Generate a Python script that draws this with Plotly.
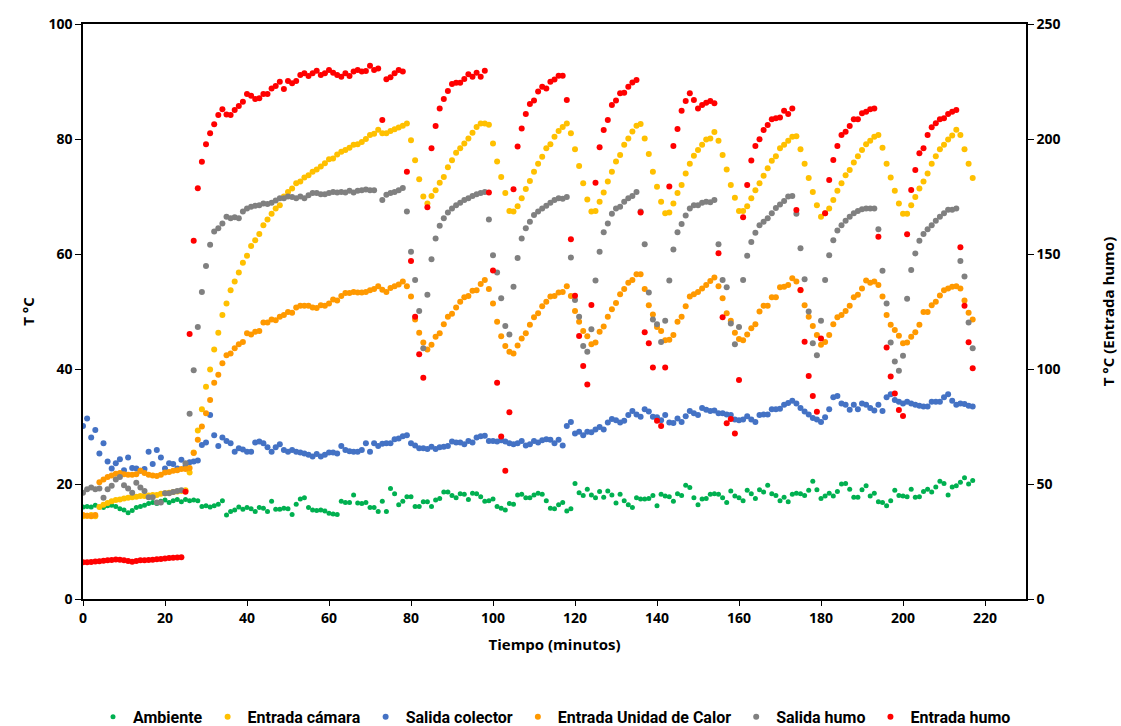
import plotly.graph_objects as go

minutes = list(range(218))

ambiente = [
    16.0, 16.1, 16.0, 16.3, 16.0, 15.9, 16.2, 16.3, 16.1, 15.7,
    15.5, 15.0, 15.4, 15.9, 16.1, 16.3, 16.6, 16.8, 16.6, 17.0,
    17.2, 16.8, 17.1, 17.3, 16.9, 17.3, 17.1, 17.2, 17.1, 16.1,
    16.2, 16.0, 16.2, 16.5, 17.1, 14.6, 15.2, 15.5, 16.0, 15.6,
    15.9, 15.7, 15.2, 15.9, 15.8, 15.2, 17.0, 15.6, 15.6, 15.8,
    15.7, 14.7, 16.5, 17.4, 17.6, 15.9, 15.5, 15.4, 15.5, 15.3,
    14.9, 14.8, 14.7, 17.0, 16.8, 16.8, 18.1, 16.7, 16.6, 16.8,
    15.9, 15.9, 15.2, 17.0, 15.2, 19.2, 18.3, 16.4, 17.0, 17.8,
    17.8, 16.1, 16.1, 16.9, 16.9, 16.1, 17.2, 17.5, 18.6, 18.6,
    18.0, 17.6, 18.3, 18.2, 17.3, 18.4, 18.3, 17.8, 17.0, 17.1,
    17.4, 16.1, 15.8, 15.5, 16.6, 16.5, 18.1, 18.2, 17.6, 17.6,
    18.1, 18.4, 18.2, 17.1, 15.8, 15.7, 16.4, 16.8, 15.3, 15.7,
    20.1, 18.5, 18.0, 19.1, 18.1, 17.6, 18.7, 17.7, 18.8, 18.1,
    16.7, 18.2, 17.1, 16.4, 15.9, 17.6, 17.4, 17.4, 17.5, 18.0,
    16.2, 18.2, 17.9, 17.8, 17.0, 18.3, 18.0, 19.8, 19.4, 17.6,
    16.4, 17.4, 17.5, 18.2, 18.3, 18.2, 17.6, 16.8, 18.8, 17.9,
    17.6, 17.1, 18.9, 18.3, 17.5, 19.0, 18.6, 19.8, 18.3, 18.0,
    17.1, 17.7, 16.9, 18.2, 18.4, 18.3, 18.0, 18.9, 20.5, 19.0,
    17.5, 17.9, 18.4, 17.9, 18.7, 20.0, 20.1, 19.1, 17.7, 17.7,
    19.0, 19.7, 17.9, 18.4, 16.9, 16.8, 16.2, 17.1, 18.9, 18.0,
    17.9, 17.8, 19.1, 17.7, 17.8, 18.7, 19.1, 18.6, 19.5, 20.5,
    20.1, 18.1, 19.5, 19.7, 20.3, 21.1, 20.0, 20.6,
]

entrada_camara = [
    14.4, 14.5, 14.6, 14.4, 16.0, 16.4, 16.7, 17.0, 17.2, 17.3,
    17.5, 17.6, 17.7, 17.8, 17.9, 17.9, 18.0, 18.1, 18.1, 18.3,
    18.4, 18.5, 18.6, 18.7, 18.8, 18.9, 22.0, 25.5, 29.3, 33.0,
    36.9, 39.9, 43.4, 46.3, 49.4, 51.4, 53.7, 55.2, 56.8, 58.5,
    59.7, 61.4, 62.4, 63.5, 65.0, 66.0, 67.0, 67.9, 68.5, 70.0,
    70.8, 71.4, 72.3, 72.6, 73.3, 73.7, 74.3, 74.7, 75.2, 75.8,
    76.5, 76.6, 77.3, 77.8, 78.1, 78.5, 79.0, 79.1, 79.5, 80.0,
    80.7, 80.9, 81.6, 81.0, 81.0, 81.4, 81.7, 82.0, 82.3, 82.7,
    79.8, 76.3, 73.0, 70.0, 68.8, 70.1, 71.1, 72.4, 73.4, 75.1,
    76.3, 77.6, 78.4, 79.2, 80.1, 81.1, 82.1, 82.7, 82.7, 82.5,
    79.2, 76.1, 73.4, 70.6, 67.5, 67.4, 68.3, 69.7, 71.3, 72.7,
    74.3, 75.7, 76.9, 78.4, 79.1, 80.4, 81.4, 82.1, 82.7, 81.0,
    78.2, 75.3, 72.3, 69.5, 67.4, 67.5, 69.1, 70.7, 72.6, 74.3,
    76.1, 77.2, 79.0, 80.1, 81.3, 82.3, 82.6, 80.1, 77.4, 74.3,
    71.7, 69.1, 67.1, 67.2, 68.8, 70.6, 72.0, 74.0, 75.7, 77.1,
    78.1, 79.0, 79.9, 80.1, 81.2, 79.7, 77.2, 74.7, 72.0, 69.8,
    67.5, 67.5, 68.3, 69.7, 71.1, 72.3, 73.6, 74.9, 76.2, 77.0,
    78.4, 79.0, 79.7, 80.4, 80.5, 78.2, 75.7, 73.2, 70.8, 68.5,
    66.5, 67.1, 67.9, 69.4, 71.0, 72.3, 73.7, 74.6, 75.9, 77.0,
    78.1, 79.1, 79.7, 80.4, 80.7, 78.5, 75.7, 73.3, 71.0, 68.8,
    67.0, 67.0, 68.5, 69.9, 71.4, 72.6, 74.0, 75.7, 77.0, 78.2,
    79.0, 79.9, 80.6, 81.6, 80.7, 78.2, 75.7, 73.2,
]

salida_colector = [
    30.1, 31.4, 28.1, 29.4, 25.3, 27.1, 23.9, 22.7, 23.6, 24.3,
    22.4, 24.6, 22.8, 22.7, 22.3, 22.6, 25.6, 23.5, 25.9, 24.6,
    22.7, 23.6, 23.5, 22.7, 24.2, 23.1, 23.8, 23.9, 24.1, 26.8,
    27.2, 32.0, 28.5, 26.6, 28.1, 27.5, 27.1, 25.6, 26.2, 26.0,
    25.6, 25.6, 27.2, 27.4, 27.1, 26.4, 25.6, 26.4, 26.9, 25.9,
    25.6, 25.9, 25.6, 25.5, 25.3, 25.1, 24.8, 25.2, 24.8, 25.1,
    25.5, 25.5, 25.3, 26.6, 25.9, 25.7, 25.6, 25.6, 25.9, 27.1,
    25.6, 27.1, 26.6, 27.0, 27.1, 27.1, 27.8, 27.9, 28.3, 28.5,
    27.1, 26.7, 26.2, 26.2, 26.1, 26.5, 26.1, 26.4, 26.5, 26.6,
    27.4, 27.2, 27.2, 26.9, 27.5, 27.2, 28.1, 28.3, 28.4, 27.5,
    27.5, 27.4, 27.6, 27.4, 27.1, 26.9, 27.1, 27.5, 26.7, 26.9,
    27.5, 27.2, 27.6, 27.8, 27.7, 27.1, 27.7, 26.7, 30.1, 30.8,
    28.8, 29.1, 28.5, 29.1, 29.0, 29.5, 29.9, 29.5, 30.7, 31.3,
    31.1, 30.7, 31.0, 32.0, 32.7, 32.1, 31.7, 33.0, 32.6, 31.7,
    31.6, 31.1, 32.0, 30.7, 30.6, 31.4, 30.8, 31.8, 32.7, 32.3,
    32.0, 33.2, 32.9, 32.7, 32.8, 32.3, 32.3, 32.1, 32.0, 31.2,
    31.1, 31.2, 31.8, 31.2, 30.8, 32.0, 32.1, 32.1, 33.0, 33.0,
    33.1, 33.8, 34.1, 34.5, 34.0, 33.2, 32.6, 32.1, 31.5, 31.2,
    30.8, 31.6, 33.0, 35.1, 35.3, 34.0, 33.8, 32.9, 33.8, 33.0,
    34.0, 33.8, 33.2, 32.8, 33.8, 32.7, 35.1, 35.6, 34.6, 34.3,
    34.0, 34.3, 34.0, 33.8, 33.6, 33.5, 33.5, 34.3, 34.3, 34.3,
    35.1, 35.6, 34.5, 33.8, 34.0, 33.9, 33.6, 33.5,
]

entrada_unidad_calor = [
    14.6, 14.5, 14.4, 14.6, 20.3, 20.8, 21.2, 21.5, 21.8, 21.9,
    21.7, 21.6, 21.6, 21.7, 22.3, 21.9, 21.6, 21.5, 21.4, 21.6,
    22.0, 22.1, 22.3, 22.4, 22.6, 22.6, 22.8, 25.4, 27.7, 30.0,
    32.3, 34.6, 37.6, 39.0, 41.0, 42.4, 42.7, 43.6, 44.3, 44.7,
    46.2, 46.0, 46.5, 46.6, 48.1, 48.1, 48.6, 48.5, 49.1, 49.4,
    49.9, 49.8, 50.7, 51.0, 51.0, 51.0, 50.7, 50.6, 51.1, 51.0,
    51.4, 52.1, 51.9, 52.7, 53.2, 53.2, 53.4, 53.3, 53.3, 53.4,
    53.7, 53.9, 54.4, 53.8, 53.4, 54.1, 54.4, 54.7, 55.2, 54.4,
    52.6, 48.6, 46.3, 44.6, 43.4, 44.2, 45.6, 46.2, 47.8, 49.1,
    49.6, 50.7, 51.7, 52.5, 52.7, 53.6, 53.7, 54.8, 55.5, 53.9,
    51.4, 48.2, 45.7, 44.0, 43.0, 42.7, 44.1, 45.3, 46.2, 47.7,
    49.0, 49.7, 50.9, 51.7, 52.6, 52.7, 53.3, 53.4, 54.4, 52.7,
    50.1, 48.2, 46.6, 45.7, 44.3, 44.6, 46.5, 47.4, 49.1, 50.4,
    51.5, 53.0, 53.9, 55.0, 55.5, 56.5, 56.5, 53.9, 51.1, 49.5,
    47.3, 46.6, 45.0, 45.1, 45.9, 48.2, 49.1, 50.9, 52.6, 53.0,
    53.4, 54.0, 54.6, 55.3, 55.9, 54.4, 52.3, 49.7, 48.4, 46.3,
    45.2, 45.0, 46.0, 47.1, 47.8, 50.0, 51.0, 51.0, 52.5, 52.5,
    54.2, 54.3, 54.6, 55.8, 55.2, 53.7, 51.1, 49.1, 47.5, 45.9,
    44.2, 44.7, 45.9, 47.8, 49.0, 49.4, 50.1, 51.0, 52.5, 52.9,
    54.0, 55.4, 55.0, 55.2, 54.6, 52.6, 49.4, 47.7, 46.8, 45.8,
    44.5, 44.6, 45.6, 46.4, 47.7, 49.9, 49.9, 51.1, 51.7, 52.8,
    53.7, 54.0, 54.3, 54.4, 54.0, 51.9, 49.8, 48.6,
]

salida_humo = [
    18.5, 19.1, 19.4, 19.1, 19.2, 17.6, 19.1, 19.7, 20.8, 21.2,
    19.8, 19.2, 18.5, 20.2, 19.4, 18.8, 17.7, 17.7, 16.8, 16.8,
    18.4, 18.4, 18.6, 18.8, 18.9, 23.6, 32.2, 39.8, 47.3, 53.4,
    57.9, 61.6, 63.9, 64.5, 65.3, 66.5, 66.2, 66.4, 66.2, 67.4,
    67.9, 68.2, 68.4, 68.5, 68.8, 68.7, 68.9, 69.3, 69.7, 69.7,
    70.0, 69.9, 69.7, 70.0, 69.7, 70.2, 70.6, 70.6, 70.4, 70.4,
    70.6, 70.8, 70.7, 70.8, 70.7, 71.0, 70.7, 71.0, 71.1, 71.2,
    71.1, 71.1, None, 69.4, 70.3, 70.6, 70.8, 71.1, 71.5, 67.4,
    60.4, 55.5, 50.1, 43.6, 52.9, 59.1, 62.7, 64.9, 66.2, 67.2,
    67.9, 68.5, 68.9, 69.4, 69.7, 70.1, 70.4, 70.6, 70.8, 66.0,
    59.8, 56.8, 52.3, 47.5, 46.0, 54.3, 59.3, 62.7, 64.5, 65.6,
    66.8, 67.4, 67.9, 68.4, 68.9, 69.4, 69.7, 69.6, 69.9, 59.4,
    52.0, 49.1, 44.0, 43.0, 46.9, 55.4, 60.4, 63.8, 65.3, 67.0,
    67.9, 68.2, 69.1, 69.7, 70.1, 70.8, 67.4, 61.7, 53.3, 48.6,
    47.8, 44.7, 48.4, 55.4, 60.8, 63.8, 65.2, 66.7, 67.9, 68.5,
    68.5, 68.9, 69.1, 69.0, 69.4, 61.7, 55.5, 54.2, 47.9, 44.3,
    47.3, 55.5, 59.7, 62.1, 63.7, 65.0, 65.6, 66.2, 67.1, 68.0,
    68.6, 69.2, 70.0, 70.1, 67.0, 61.0, 55.6, 50.0, 44.5, 42.4,
    48.4, 55.5, 59.8, 62.4, 64.1, 65.0, 65.8, 66.5, 67.1, 67.5,
    67.8, 67.9, 67.9, 67.9, 64.3, 57.1, 51.4, 44.6, 41.3, 39.7,
    42.3, 52.2, 57.2, 60.1, 62.3, 63.5, 64.3, 65.0, 65.8, 66.5,
    67.1, 67.7, 67.7, 67.9, 58.8, 56.1, 48.1, 43.6,
]

# Entrada humo is read on the secondary (right) axis, 0-250
entrada_humo = [
    16.0, 16.0, 16.1, 16.3, 16.4, 16.6, 16.8, 17.0, 17.2, 17.1,
    16.8, 16.5, 16.2, 16.5, 16.8, 16.9, 17.0, 17.1, 17.3, 17.4,
    17.6, 17.8, 17.9, 18.0, 18.1, 46.6, 115.2, 155.8, 178.6, 190.1,
    197.7, 202.5, 206.4, 210.4, 212.9, 210.7, 210.4, 212.6, 214.3, 216.2,
    219.6, 218.8, 217.4, 217.7, 219.6, 219.6, 222.0, 223.0, 224.9, 221.7,
    225.2, 224.2, 225.2, 227.8, 228.6, 227.4, 228.6, 229.7, 227.8, 228.6,
    230.0, 228.8, 227.8, 227.1, 228.6, 227.4, 229.3, 230.0, 229.3, 229.6,
    231.9, 230.0, 230.7, 208.3, 226.0, 226.8, 228.6, 230.0, 229.3, 185.8,
    147.0, 122.7, 106.4, 96.2, 170.3, 196.0, 205.7, 213.3, 217.4, 220.9,
    223.9, 224.5, 224.5, 226.1, 228.1, 227.1, 228.8, 227.1, 229.7, 176.7,
    142.8, 94.0, 70.6, 55.8, 81.2, 178.1, 196.7, 204.6, 210.9, 215.2,
    216.7, 220.6, 222.7, 222.0, 224.9, 225.9, 227.5, 227.5, 217.0, 156.4,
    131.9, 114.3, 101.3, 93.3, 127.8, 181.0, 196.4, 203.9, 208.3, 214.8,
    216.7, 219.9, 220.1, 222.7, 224.6, 225.7, 168.0, 116.0, 111.2, 100.6,
    77.5, 75.2, 100.6, 179.3, 197.0, 204.3, 212.3, 216.5, 219.9, 217.0,
    213.3, 214.8, 215.8, 216.5, 215.5, 150.3, 122.5, 76.4, 78.3, 72.0,
    95.2, 166.0, 180.0, 190.6, 197.0, 199.9, 203.9, 206.1, 208.6, 209.0,
    209.4, 212.3, 210.9, 213.3, 169.1, 134.3, 111.9, 97.0, 88.3, 81.4,
    113.3, 167.7, 182.2, 190.9, 197.0, 201.7, 203.2, 205.7, 208.6, 208.6,
    211.2, 211.9, 212.9, 213.3, 157.5, None, 109.3, 96.7, 89.4, 82.2,
    79.6, 158.6, 177.8, 186.5, 193.8, 196.0, 201.7, 205.1, 206.8, 208.6,
    209.0, 210.9, 211.9, 212.6, 152.9, 127.5, 111.6, 100.3,
]

series = [
    ("Ambiente", ambiente, "#00B050", 5, "y"),
    ("Entrada cámara", entrada_camara, "#FFC000", 6, "y"),
    ("Salida colector", salida_colector, "#4472C4", 6, "y"),
    ("Entrada Unidad de Calor", entrada_unidad_calor, "#FF9900", 6, "y"),
    ("Salida humo", salida_humo, "#808080", 6, "y"),
    ("Entrada humo", entrada_humo, "#FF0000", 6, "y2"),
]

fig = go.Figure()
for name, vals, color, size, axis in series:
    fig.add_trace(go.Scatter(
        x=minutes, y=vals, name="<b>" + name + "</b>", mode="markers", yaxis=axis,
        marker=dict(color=color, size=size, line=dict(width=0)),
    ))

tick_font = dict(family="Open Sans, DejaVu Sans, sans-serif", size=14, color="#000000")
title_font = dict(family="Open Sans, DejaVu Sans, sans-serif", size=15, color="#000000")

fig.update_layout(
    width=1121, height=726, autosize=False,
    margin=dict(l=83, r=95, t=24, b=127, autoexpand=False),
    paper_bgcolor="white", plot_bgcolor="white",
    showlegend=True,
    legend=dict(
        orientation="h", x=0.5, xanchor="center", y=-0.205, yanchor="middle",
        font=dict(family="Liberation Sans Narrow, Roboto, sans-serif", size=16, color="#000000"),
        itemsizing="trace", tracegroupgap=0,
    ),
    xaxis=dict(
        range=[0, 230], tick0=0, dtick=20, showgrid=False, zeroline=False,
        showline=True, linecolor="#000000", linewidth=1.5, mirror=True,
        ticks="outside", ticklen=5, tickcolor="#000000",
        tickfont=tick_font, tickprefix="<b>", ticksuffix="</b>",
        title=dict(text="<b>Tiempo (minutos)</b>", font=title_font, standoff=14),
    ),
    yaxis=dict(
        range=[0, 100], tick0=0, dtick=20, showgrid=False, zeroline=False,
        showline=True, linecolor="#000000", linewidth=1.5,
        ticks="outside", ticklen=6, tickcolor="#000000",
        tickfont=tick_font, tickprefix="<b>", ticksuffix="</b>",
        title=dict(text="<b>T °C</b>", font=title_font, standoff=10),
    ),
    yaxis2=dict(
        range=[0, 250], tick0=0, dtick=50, overlaying="y", side="right",
        showgrid=False, zeroline=False,
        showline=True, linecolor="#000000", linewidth=1.5,
        ticks="outside", ticklen=6, tickcolor="#000000",
        tickfont=tick_font, tickprefix="<b>", ticksuffix="</b>",
        title=dict(text="<b>T °C (Entrada humo)</b>", font=title_font, standoff=44),
    ),
)

fig.write_html("out.html")
